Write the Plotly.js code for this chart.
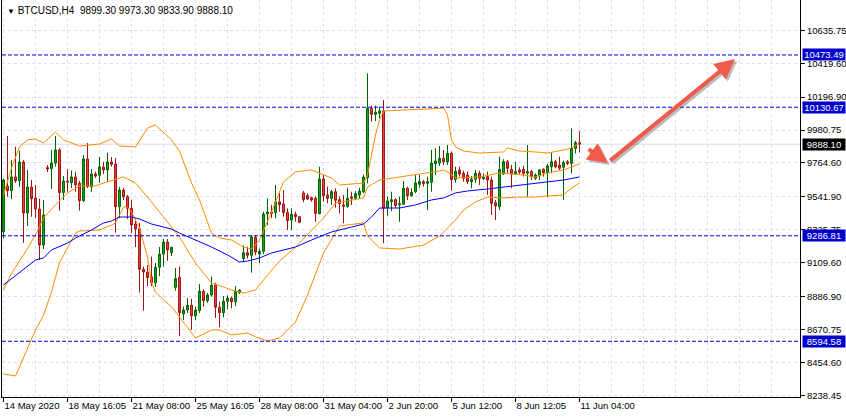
<!DOCTYPE html>
<html>
<head>
<meta charset="utf-8">
<script src="https://cdn.plot.ly/plotly-3.0.1.min.js"></script>
<style>
  html, body { margin: 0; padding: 0; background: #fff; }
  #chart { width: 846px; height: 419px; }
</style>
</head>
<body>
<div id="chart"></div>
<script>
// BTCUSD H4, 14 May - 11 Jun 2020, one value per bar (bar 0 = 14 May 00:00)
const openP = [
  9314, 9614, 9583, 9673, 9648, 9771, 9436, 9607, 9535, 9463, 9226, 9734, 9728, 9764, 9850, 9570,
  9646, 9635, 9673, 9633, 9517, 9791, 9609, 9692, 9684, 9738, 9719, 9771, 9758, 9478, 9587, 9543,
  9467, 9364, 9333, 9067, 9049, 9018, 8979, 9080, 9167, 9246, 9176, 8949, 9014, 8774, 8800, 8831,
  8761, 8796, 8923, 8861, 8898, 8966, 8818, 8782, 8857, 8878, 8854, 8913, 9137, 9176, 9159, 9277,
  9167, 9185, 9430, 9443, 9439, 9509, 9496, 9439, 9390, 9428, 9412, 9568, 9551, 9537, 9533, 9432,
  9660, 9555, 9533, 9576, 9524, 9489, 9480, 9542, 9533, 9555, 9576, 9668, 10124, 10084, 10091, 10106,
  9471, 9511, 9524, 9489, 9494, 9599, 9550, 9576, 9625, 9642, 9631, 9638, 9760, 9764, 9795, 9773,
  9828, 9657, 9719, 9697, 9686, 9642, 9658, 9697, 9662, 9675, 9653, 9504, 9478, 9692, 9773, 9723,
  9692, 9719, 9723, 9697, 9708, 9664, 9681, 9723, 9701, 9740, 9773, 9751, 9736, 9773, 9762, 9860,
  9899.30
];
const highP = [
  9664, 9942, 9784, 9872, 9845, 9784, 9719, 9653, 9620, 9530, 9522, 9751, 9850, 9942, 9863, 9679,
  9725, 9714, 9708, 9648, 9817, 9896, 9725, 9708, 9804, 9773, 9832, 9804, 9797, 9607, 9600, 9555,
  9522, 9390, 9371, 9084, 9095, 9150, 9108, 9213, 9266, 9266, 9215, 9075, 9084, 8822, 8878, 8872,
  8822, 8970, 8935, 8911, 9019, 8979, 8854, 8892, 8896, 8887, 8957, 8935, 9224, 9215, 9292, 9292,
  9202, 9445, 9533, 9489, 9620, 9568, 9587, 9467, 9467, 9445, 9417, 9581, 9566, 9544, 9544, 9740,
  9686, 9609, 9587, 9598, 9544, 9555, 9602, 9576, 9581, 9602, 9690, 10353, 10141, 10141, 10134, 10178,
  9544, 9576, 9533, 9544, 9646, 9609, 9598, 9686, 9686, 9653, 9675, 9850, 9861, 9876, 9850, 9883,
  9839, 9740, 9740, 9714, 9708, 9679, 9719, 9714, 9697, 9708, 9675, 9522, 9806, 9789, 9784, 9751,
  9773, 9736, 9745, 9883, 9719, 9697, 9723, 9730, 9758, 9832, 9784, 9806, 9780, 9784, 9992, 9910,
  9973.30
];
const lowP = [
  9270, 9543, 9528, 9633, 9607, 9240, 9351, 9412, 9403, 9128, 9200, 9705, 9594, 9741, 9452, 9522,
  9576, 9600, 9576, 9452, 9511, 9600, 9576, 9666, 9635, 9692, 9642, 9741, 9307, 9403, 9522, 9397,
  9305, 9213, 8914, 8795, 8957, 8957, 8951, 9023, 9084, 9123, 9154, 8927, 8629, 8734, 8780, 8669,
  8734, 8780, 8822, 8846, 8887, 8747, 8686, 8752, 8804, 8811, 8826, 8905, 9119, 9137, 9045, 9159,
  9106, 9167, 9356, 9402, 9402, 9445, 9412, 9325, 9325, 9379, 9369, 9507, 9522, 9511, 9379, 9428,
  9511, 9500, 9489, 9471, 9434, 9369, 9471, 9489, 9528, 9533, 9566, 9631, 10036, 10040, 10058, 9238,
  9418, 9449, 9471, 9379, 9489, 9522, 9543, 9566, 9603, 9609, 9456, 9576, 9686, 9745, 9751, 9751,
  9583, 9635, 9675, 9642, 9627, 9599, 9635, 9620, 9653, 9555, 9423, 9390, 9456, 9686, 9697, 9599,
  9686, 9692, 9675, 9543, 9653, 9653, 9653, 9675, 9539, 9697, 9730, 9719, 9522, 9751, 9697, 9828,
  9833.90
];
const closeP = [
  9653, 9583, 9673, 9648, 9771, 9436, 9607, 9530, 9463, 9226, 9423, 9725, 9764, 9850, 9570, 9646,
  9640, 9673, 9620, 9517, 9791, 9609, 9692, 9679, 9740, 9719, 9771, 9756, 9478, 9587, 9543, 9467,
  9358, 9333, 9067, 9049, 9013, 8979, 9080, 9167, 9246, 9194, 9211, 9005, 8782, 8800, 8831, 8761,
  8800, 8923, 8861, 8898, 8962, 8818, 8782, 8857, 8878, 8854, 8923, 8931, 9176, 9159, 9281, 9180,
  9185, 9430, 9443, 9434, 9509, 9491, 9439, 9386, 9428, 9412, 9375, 9524, 9528, 9522, 9434, 9660,
  9550, 9533, 9576, 9520, 9498, 9480, 9533, 9533, 9563, 9581, 9673, 10124, 10084, 10097, 10106, 9467,
  9515, 9524, 9485, 9498, 9599, 9550, 9572, 9633, 9642, 9629, 9642, 9764, 9778, 9795, 9773, 9828,
  9657, 9710, 9692, 9664, 9642, 9658, 9697, 9664, 9671, 9653, 9500, 9482, 9723, 9773, 9730, 9692,
  9708, 9705, 9697, 9708, 9675, 9686, 9719, 9701, 9745, 9773, 9740, 9730, 9767, 9762, 9860, 9897,
  9888.10
];

// Bollinger bands and moving average, read at the bars where they bend
const upperBars = [0, 2, 4, 6, 8, 10, 13, 15, 19, 24, 27, 29, 33, 36, 38, 40, 42, 44, 47, 49,
  52, 54, 57, 60, 62, 64, 67, 70, 73, 77, 82, 84, 90, 91, 93, 94, 95, 106, 110, 111,
  112, 113, 115, 119, 125, 126, 129, 133, 136, 140, 142, 144];
const upperBand = [9555, 9732, 9870, 9916, 9922, 9896, 9968, 9916, 9876, 9889, 9922, 9876, 9870, 9994, 10014, 9968, 9916, 9843, 9633, 9522,
  9305, 9272, 9259, 9213, 9200, 9259, 9443, 9640, 9706, 9719, 9666, 9620, 9633, 9686, 9948, 10047, 10106, 10119, 10125, 10080,
  9916, 9870, 9843, 9830, 9837, 9863, 9843, 9837, 9830, 9850, 9863, 9896];

const midBars = [0, 2, 5, 8, 10, 13, 16, 19, 23, 25, 30, 33, 36, 40, 44, 48, 52, 55, 57, 60,
  63, 65, 69, 73, 80, 83, 90, 91, 94, 109, 110, 111, 113, 119, 124, 130, 133, 136, 140, 142, 144];
const midBand = [8931, 9040, 9161, 9292, 9404, 9490, 9568, 9614, 9614, 9633, 9673, 9633, 9541, 9410, 9279, 9108, 8977, 8951, 8931, 8911,
  8931, 8997, 9121, 9213, 9404, 9502, 9535, 9607, 9653, 9712, 9719, 9706, 9666, 9673, 9699, 9686, 9673, 9699, 9719, 9738, 9758];

const lowerBars = [0, 3, 4, 5, 6, 7, 8, 10, 12, 14, 16, 18, 19, 24, 27, 28, 30, 31, 32, 34, 36, 37,
  38, 40, 42, 45, 48, 52, 54, 57, 61, 63, 66, 69, 73, 76, 80, 84, 90, 91, 94, 99,
  105, 109, 111, 113, 115, 118, 121, 125, 129, 133, 136, 140, 142, 144];
const lowerBand = [8380, 8367, 8426, 8485, 8550, 8603, 8669, 8765, 8918, 9110, 9210, 9305, 9318, 9325, 9358, 9371, 9476, 9476, 9443, 9338, 9148, 8983,
  8918, 8865, 8822, 8721, 8616, 8669, 8669, 8636, 8649, 8623, 8596, 8616, 8721, 8898, 9174, 9351, 9371, 9285, 9207, 9200,
  9226, 9285, 9338, 9390, 9456, 9509, 9541, 9535, 9541, 9541, 9548, 9555, 9600, 9633];

const maBars = [0, 4, 8, 10, 12, 16, 18, 22, 25, 27, 29, 32, 34, 37, 42, 44, 48, 52, 56, 59,
  61, 64, 67, 71, 73, 77, 82, 87, 90, 92, 94, 99, 103, 107, 110, 113, 116, 121, 125, 130,
  135, 140, 144];
const maLine = [8964, 9049, 9128, 9141, 9194, 9239, 9272, 9325, 9371, 9384, 9410, 9410, 9397, 9364, 9331, 9305, 9259, 9213, 9161, 9115,
  9121, 9141, 9174, 9200, 9213, 9259, 9312, 9344, 9364, 9410, 9469, 9469, 9489, 9522, 9535, 9568, 9581, 9594, 9607, 9620,
  9640, 9653, 9673];

// Time axis labels every 16 bars
const tickBars = [0, 16, 32, 48, 64, 80, 96, 112, 128, 144];
const tickLabels = ['14 May 2020', '18 May 16:05', '21 May 08:00', '25 May 16:05', '28 May 08:00',
  '31 May 04:00', '2 Jun 20:00', '5 Jun 12:00', '8 Jun 12:05', '11 Jun 04:00'];

const priceTicks = [10635.75, 10419.60, 10196.90, 9980.75, 9764.60, 9541.90, 9325.75,
  9109.60, 8886.90, 8670.75, 8454.60, 8238.45];

// Horizontal levels drawn on the chart
const levels = [10473.49, 10130.67, 9286.81, 8594.58];
const lastPrice = closeP[closeP.length - 1];

const GRID = '#dedef0';
const LEVEL_BLUE = '#0000dd';
const barIdx = closeP.map((_, i) => i);

const traces = [
    {
        type: 'candlestick',
        x: barIdx, open: openP, high: highP, low: lowP, close: closeP,
        increasing: { line: { color: '#006400', width: 1 }, fillcolor: '#1fa51f' },
        decreasing: { line: { color: '#a01515', width: 1 }, fillcolor: '#e8453c' },
        whiskerwidth: 0,
        hoverinfo: 'skip',
    },
    { type: 'scatter', mode: 'lines', x: upperBars, y: upperBand, line: { color: '#ff8c00', width: 1 }, hoverinfo: 'skip' },
    { type: 'scatter', mode: 'lines', x: midBars, y: midBand, line: { color: '#ff8c00', width: 1 }, hoverinfo: 'skip' },
    { type: 'scatter', mode: 'lines', x: lowerBars, y: lowerBand, line: { color: '#ff8c00', width: 1 }, hoverinfo: 'skip' },
    { type: 'scatter', mode: 'lines', x: maBars, y: maLine, line: { color: '#0000ff', width: 1 }, hoverinfo: 'skip' },
];

const shapes = [
    { type: 'line', xref: 'paper', x0: 0, x1: 1, yref: 'y', y0: lastPrice, y1: lastPrice,
      line: { color: '#d8d8ec', width: 1 }, layer: 'below' },
    ...levels.map(v => ({
        type: 'line', xref: 'paper', x0: 0, x1: 1, yref: 'y', y0: v, y1: v,
        line: { color: LEVEL_BLUE, width: 1, dash: '4px,2px' },
    })),
];

// price tags on the right scale
const tag = (v, bg) => ({
    xref: 'paper', x: 1, xanchor: 'left', xshift: 2,
    yref: 'y', y: v, yanchor: 'middle',
    text: v.toFixed(2), showarrow: false,
    bgcolor: bg, borderpad: 0, width: 42, height: 11,
    font: { color: '#fff', size: 9.5 },
});

// hand-drawn forecast arrows: [tailBar, tailPrice, headBar, headPrice]
const arrows = [
    [145.9, 9863, 151.1, 9764],
    [151.3, 9772, 182.9, 10447],
];
const arrowAnn = (a, color, dx, dy) => ({
    xref: 'x', yref: 'y', axref: 'x', ayref: 'y',
    x: a[2], y: a[3], ax: a[0], ay: a[1],
    text: '', showarrow: true, arrowhead: 2, arrowsize: 1, arrowwidth: 4,
    arrowcolor: color, xshift: dx, yshift: dy, standoff: 0, startstandoff: 0,
});

const hdr = [openP, highP, lowP, closeP].map(a => a[a.length - 1].toFixed(2)).join(' ');

const annotations = [
    {
        xref: 'paper', yref: 'paper', x: 0, y: 1, xanchor: 'left', yanchor: 'top',
        xshift: 3, yshift: -3, showarrow: false, align: 'left',
        text: '<span style="font-size:8px">\u25BC</span> BTCUSD,H4\u00a0\u00a0' + hdr,
        font: { size: 10, color: '#000' },
    },
    ...levels.map(v => tag(v, '#0000cc')),
    tag(lastPrice, '#000000'),
    ...arrows.map(a => arrowAnn(a, 'rgba(70,70,70,0.35)', 2, -2)),
    ...arrows.map(a => arrowAnn(a, '#f25a4c', 0, 0)),
];

const layout = {
    width: 846, height: 419,
    margin: { l: 2, r: 46, t: 0, b: 22 },
    paper_bgcolor: '#ffffff', plot_bgcolor: '#ffffff',
    font: { family: '"Liberation Sans", Arial, sans-serif', size: 10, color: '#000' },
    showlegend: false,
    hovermode: false,
    dragmode: false,
    xaxis: {
        type: 'linear',
        range: [-0.375, 199.125],
        rangeslider: { visible: false },
        tickvals: tickBars, ticktext: tickLabels,
        tickangle: 0,
        tickfont: { size: 9.5 },
        ticks: 'outside', ticklen: 4, tickcolor: '#000',
        ticklabelposition: 'outside right',
        showgrid: true, gridcolor: GRID, gridwidth: 1, griddash: '3px,3px',
        minor: { dtick: 8, tick0: 0, showgrid: true, gridcolor: GRID, gridwidth: 1, griddash: '3px,3px' },
        showline: true, linecolor: '#000', linewidth: 1,
        zeroline: false, fixedrange: true,
    },
    yaxis: {
        side: 'right',
        range: [8228.8, 10834.3],
        tickvals: priceTicks, ticktext: priceTicks.map(v => v.toFixed(2)),
        tickfont: { size: 9.5 },
        ticks: 'outside', ticklen: 4, tickcolor: '#000',
        showgrid: true, gridcolor: GRID, gridwidth: 1, griddash: '3px,3px',
        showline: true, mirror: true, linecolor: '#000', linewidth: 1,
        zeroline: false, fixedrange: true,
    },
    shapes,
    annotations,
};

Plotly.newPlot('chart', traces, layout, { displayModeBar: false, staticPlot: true });
</script>
</body>
</html>
